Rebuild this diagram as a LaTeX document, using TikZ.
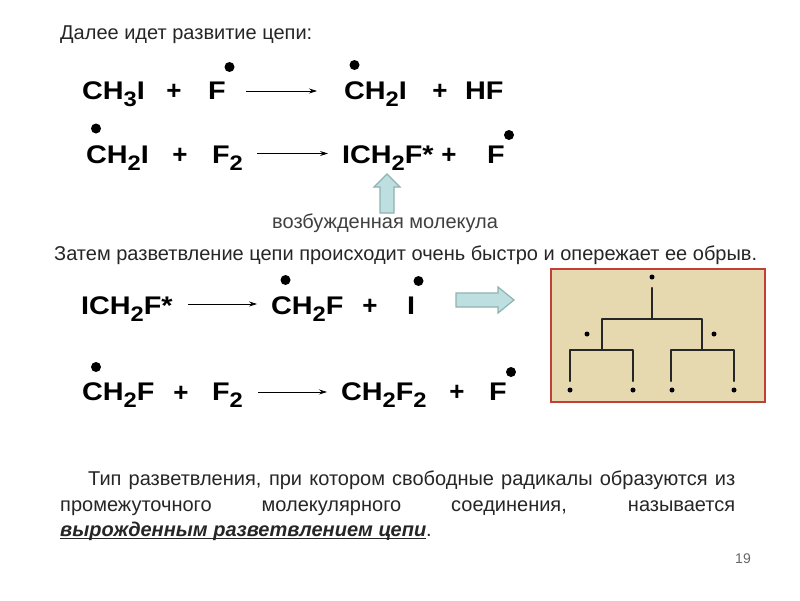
\documentclass[tikz,border=0pt]{standalone}
\usepackage{fontspec}
\setmainfont{Liberation Sans}
\newfontfamily\chemfont[FakeStretch=1.13]{Liberation Sans}
\usetikzlibrary{arrows.meta,shapes.arrows}
\definecolor{panelfill}{HTML}{E6D9AF}
\definecolor{panelline}{HTML}{BF4036}
\definecolor{teal}{HTML}{BEDFDF}
\definecolor{tealline}{HTML}{8FB3B0}
\definecolor{txt}{HTML}{262626}
\newcommand{\ssb}[1]{\raisebox{-7.5pt}{\fontsize{21}{21}\selectfont #1}}
\tikzset{
  x=1pt,y=-1pt,
  chem/.style={anchor=base west,inner sep=0pt,outer sep=0pt,font=\chemfont\bfseries\fontsize{25.5}{26}\selectfont,text=black},
  plus/.style={anchor=base,inner sep=0pt,font=\bfseries\fontsize{26}{26}\selectfont,text=black},
  radical/.style={circle,fill=black,inner sep=0pt,minimum size=10pt},
  treedot/.style={circle,fill=black,inner sep=0pt,minimum size=5pt},
  rxn/.style={draw=black,line width=0.7pt,-{Stealth[length=8pt,width=5pt]}},
  body/.style={anchor=base west,inner sep=0pt,font=\fontsize{20}{26}\selectfont,text=txt},
  tree/.style={draw=black!85,line width=2.3pt,line cap=round,line join=round},
  block/.style={draw=tealline,line width=1.2pt,fill=teal},
}
\begin{document}
\begin{tikzpicture}
\useasboundingbox (0,0) rectangle (800,600);
\fill[white] (0,0) rectangle (800,600);
\node[body] (title) at (60,39) {Далее идет развитие цепи:};
% row 1
\node[chem] (r1a) at (82,99) {CH\ssb{3}I};
\node[plus] (r1p) at (174,99) {+};
\node[chem] (r1b) at (208,99) {F};
\node[radical] (r1bd) at (229.5,67) {};
\coordinate (r1s) at (246,91); \coordinate (r1e) at (317,91);
\draw[rxn] (r1s) -- (r1e);
\node[chem] (r1c) at (344,99) {CH\ssb{2}I};
\node[radical] (r1cd) at (354.5,65) {};
\node[plus] (r1q) at (440,99) {+};
\node[chem] (r1d) at (465,99) {HF};
% row 2
\node[chem] (r2a) at (86,163) {CH\ssb{2}I};
\node[radical] (r2ad) at (96,128.5) {};
\node[plus] (r2p) at (180,163) {+};
\node[chem] (r2b) at (212,163) {F\ssb{2}};
\coordinate (r2s) at (257,153.5); \coordinate (r2e) at (328,153.5);
\draw[rxn] (r2s) -- (r2e);
\node[chem] (r2c) at (342,163) {ICH\ssb{2}F*};
\node[plus] (r2q) at (449,163) {+};
\node[chem] (r2d) at (487,163) {F};
\node[radical] (r2dd) at (509,135) {};
\draw[block] (380,213) -- (380,187) -- (374,187) -- (387,174) -- (400,187) -- (394,187) -- (394,213) -- cycle;
\node[body,text=black!75] (exc) at (272,228) {возбужденная молекула};
\node[body] (then) at (54,260) {Затем разветвление цепи происходит очень быстро и опережает ее обрыв.};
% row 3
\node[chem] (r3a) at (81,314) {ICH\ssb{2}F*};
\coordinate (r3s) at (188,304); \coordinate (r3e) at (257,304);
\draw[rxn] (r3s) -- (r3e);
\node[chem] (r3b) at (271,314) {CH\ssb{2}F};
\node[radical] (r3bd) at (285.5,280) {};
\node[plus] (r3p) at (370,314) {+};
\node[chem] (r3c) at (407,314) {I};
\node[radical] (r3cd) at (418.5,281) {};
\draw[block] (456,293) -- (498,293) -- (498,287) -- (514,300) -- (498,313) -- (498,307) -- (456,307) -- cycle;
% row 4
\node[chem] (r4a) at (82,400) {CH\ssb{2}F};
\node[radical] (r4ad) at (96,367) {};
\node[plus] (r4p) at (181,401) {+};
\node[chem] (r4b) at (212,400) {F\ssb{2}};
\coordinate (r4s) at (258,392); \coordinate (r4e) at (327,392);
\draw[rxn] (r4s) -- (r4e);
\node[chem] (r4c) at (341,400) {CH\ssb{2}F\ssb{2}};
\node[plus] (r4q) at (457,400) {+};
\node[chem] (r4d) at (489,400) {F};
\node[radical] (r4dd) at (511,372) {};
% panel
\draw[draw=panelline,line width=2pt,fill=panelfill] (551,269) rectangle (765,402);
\coordinate (t0) at (652,288); \coordinate (t1) at (652,319);
\coordinate (tl) at (602,319); \coordinate (tr) at (702,319);
\coordinate (tlb) at (602,350); \coordinate (trb) at (702,350);
\coordinate (a1) at (570,350); \coordinate (a2) at (633,350);
\coordinate (b1) at (671,350); \coordinate (b2) at (734,350);
\coordinate (a1e) at (570,381); \coordinate (a2e) at (633,381);
\coordinate (b1e) at (671,381); \coordinate (b2e) at (734,381);
\draw[tree] (t0) -- (t1);
\draw[tree] (tlb) -- (tl) -- (tr) -- (trb);
\draw[tree] (a1e) -- (a1) -- (a2) -- (a2e);
\draw[tree] (b1e) -- (b1) -- (b2) -- (b2e);
\node[treedot] (d0) at (652,277) {};
\node[treedot] (d1) at (587,334) {};
\node[treedot] (d2) at (714,334) {};
\node[treedot] (d3) at (570,390) {};
\node[treedot] (d4) at (633,390) {};
\node[treedot] (d5) at (672,390) {};
\node[treedot] (d6) at (734,390) {};
% paragraph
\node[anchor=north west,inner sep=0pt,text width=675pt,font=\fontsize{20}{25.5}\selectfont,text=txt,align=justify] (para) at (60,471)
{\hspace*{28pt}Тип разветвления, при котором свободные радикалы образуются из\linebreak
промежуточного молекулярного соединения, называется\linebreak
\underline{\smash{\textit{\textbf{вырожденным разветвлением цепи}}}}.};
\node[anchor=base,inner sep=0pt,font=\fontsize{14}{14}\selectfont,text=black!60] (page) at (743,563) {19};
\end{tikzpicture}
\end{document}
